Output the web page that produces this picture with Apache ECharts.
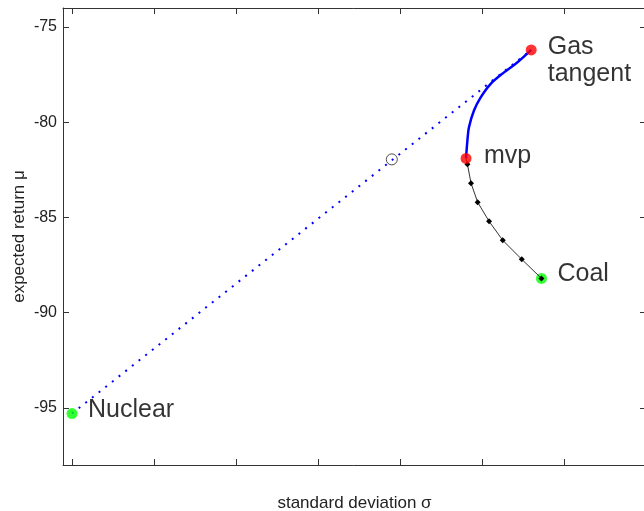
<!DOCTYPE html>
<html>
<head>
<meta charset="utf-8">
<script src="https://cdn.jsdelivr.net/npm/echarts@6/dist/echarts.min.js"></script>
<style>
  html, body { margin: 0; padding: 0; background: #fff; }
  #chart { width: 644px; height: 511px; }
</style>
</head>
<body>
<div id="chart"></div>
<script>
// Efficient frontier: standard deviation (x) vs expected return (y)
const xTicks = [0, 1, 2, 3, 4, 5, 6, 7];
const yTicks = [-95, -90, -85, -80, -75];

// Named portfolios [sigma, mu]
const nuclear = [0.0, -95.3];
const gas = [5.6, -76.2];
const mvp = [4.805, -81.9];
const coal = [5.725, -88.2];
const mixPoint = [3.9, -81.95];

// Upper branch of the frontier, mvp -> gas tangent
const upperBranch = [
  [4.805, -81.9], [4.822, -80.95], [4.841, -80.26], [4.902, -79.38],
  [4.984, -78.69], [5.106, -77.98], [5.269, -77.38], [5.433, -76.85],
  [5.6, -76.2]
];
// Lower branch, mvp -> coal, sampled at marked portfolios
const lowerBranch = [
  [4.822, -82.2], [4.866, -83.2], [4.947, -84.2], [5.086, -85.2],
  [5.253, -86.2], [5.485, -87.2], [5.725, -88.2]
];

const FONT = '"Liberation Sans", Arial, sans-serif';
const axisColor = '#333';

const chart = echarts.init(document.getElementById('chart'), null, { renderer: 'canvas' });

const tickStyle = { inside: true, length: 6, lineStyle: { color: axisColor, width: 1 } };

function pointLabel(text, dist, offset) {
  return {
    show: true, position: 'right', distance: dist, offset: offset,
    formatter: text, color: '#000', fontFamily: FONT, fontSize: 25, lineHeight: 27, align: 'left'
  };
}

chart.setOption({
  animation: false,
  backgroundColor: '#fff',
  grid: { left: 63, right: -2, top: 8, bottom: 46, containLabel: false, outerBoundsMode: 'none' },
  xAxis: [{
    type: 'value', min: -0.11, max: 7.0,
    name: 'standard deviation σ', nameLocation: 'middle', nameGap: 30, nameMoveOverlap: false,
    nameTextStyle: { fontFamily: FONT, fontSize: 17, color: '#222' },
    axisLine: { show: true, onZero: false, lineStyle: { color: axisColor, width: 1 } },
    axisTick: Object.assign({ customValues: xTicks }, tickStyle),
    axisLabel: { show: false },
    splitLine: { show: false }
  }, {
    type: 'value', position: 'top', min: -0.11, max: 7.0,
    axisLine: { show: true, onZero: false, lineStyle: { color: axisColor, width: 1 } },
    axisTick: Object.assign({ customValues: xTicks }, tickStyle),
    axisLabel: { show: false },
    splitLine: { show: false }
  }],
  yAxis: [{
    type: 'value', min: -98, max: -74,
    name: 'expected return μ', nameLocation: 'middle', nameGap: 35, nameRotate: 90, nameMoveOverlap: false,
    nameTextStyle: { fontFamily: FONT, fontSize: 17, color: '#222' },
    axisLine: { show: true, onZero: false, lineStyle: { color: axisColor, width: 1 } },
    axisTick: Object.assign({ customValues: yTicks }, tickStyle),
    axisLabel: { customValues: yTicks, fontFamily: FONT, fontSize: 16, color: '#222', margin: 6 },
    splitLine: { show: false }
  }, {
    type: 'value', position: 'right', min: -98, max: -74,
    axisLine: { show: true, onZero: false, lineStyle: { color: axisColor, width: 1 } },
    axisTick: Object.assign({ customValues: yTicks }, tickStyle),
    axisLabel: { show: false },
    splitLine: { show: false }
  }],
  series: [
    {
      // capital allocation line from nuclear to the tangent portfolio
      type: 'line', data: [nuclear, gas], symbol: 'none', silent: true,
      lineStyle: { color: '#0000ff', width: 2, type: [2, 6.5] }, z: 2
    },
    {
      type: 'line', data: upperBranch, symbol: 'none', smooth: 0.3, silent: true,
      lineStyle: { color: '#0000ff', width: 2.5 }, z: 3
    },
    {
      type: 'line', data: [{ value: mvp, symbol: 'none' }].concat(lowerBranch),
      symbol: 'diamond', symbolSize: 6, showAllSymbol: true, silent: true,
      itemStyle: { color: '#000' },
      lineStyle: { color: '#333', width: 1 }, z: 5
    },
    {
      type: 'scatter', data: [mixPoint], symbol: 'circle', symbolSize: 11, silent: true,
      itemStyle: { color: 'rgba(0,0,0,0)', borderColor: '#222', borderWidth: 1 }, z: 4
    },
    {
      type: 'scatter', symbol: 'circle', symbolSize: 11, silent: true,
      itemStyle: { color: '#00ff00' }, z: 4,
      data: [
        { value: nuclear, label: pointLabel('Nuclear', 10.5, [0, -3]) },
        { value: coal, label: pointLabel('Coal', 10.5, [0, -4]) }
      ]
    },
    {
      type: 'scatter', symbol: 'circle', symbolSize: 11, silent: true,
      itemStyle: { color: '#ff0000' }, z: 6,
      data: [
        { value: gas, label: pointLabel('Gas\ntangent', 11, [0, 11]) },
        { value: mvp, label: pointLabel('mvp', 12.5, [0, -2]) }
      ]
    }
  ]
});
</script>
</body>
</html>
